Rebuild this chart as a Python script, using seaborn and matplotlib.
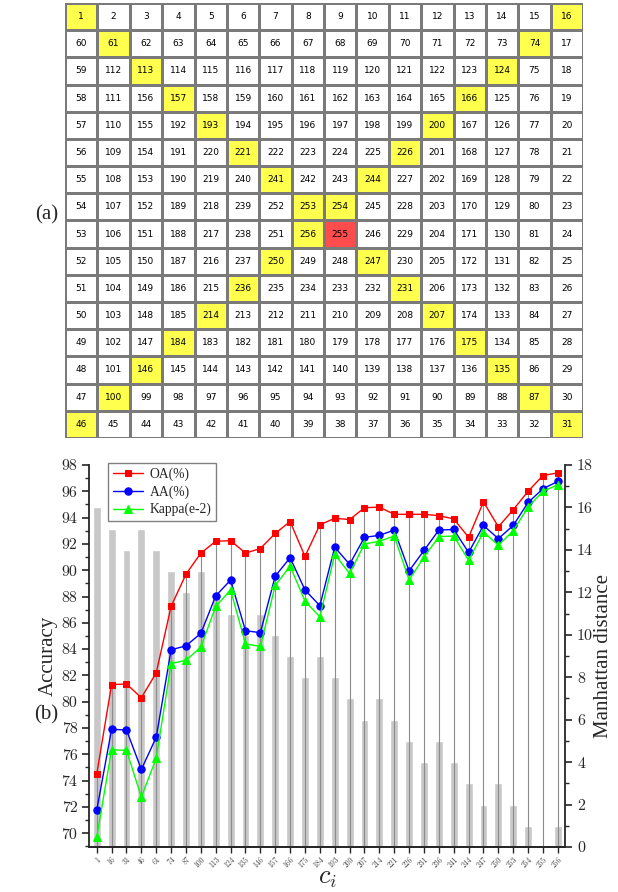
import numpy as np
import pandas as pd
import matplotlib
matplotlib.use('Agg')
import matplotlib.pyplot as plt
import seaborn as sns
from matplotlib.colors import ListedColormap
from matplotlib.ticker import MultipleLocator

# (a) 16x16 spiral grid
grid_rows = [
    [1, 2, 3, 4, 5, 6, 7, 8, 9, 10, 11, 12, 13, 14, 15, 16],
    [60, 61, 62, 63, 64, 65, 66, 67, 68, 69, 70, 71, 72, 73, 74, 17],
    [59, 112, 113, 114, 115, 116, 117, 118, 119, 120, 121, 122, 123, 124, 75, 18],
    [58, 111, 156, 157, 158, 159, 160, 161, 162, 163, 164, 165, 166, 125, 76, 19],
    [57, 110, 155, 192, 193, 194, 195, 196, 197, 198, 199, 200, 167, 126, 77, 20],
    [56, 109, 154, 191, 220, 221, 222, 223, 224, 225, 226, 201, 168, 127, 78, 21],
    [55, 108, 153, 190, 219, 240, 241, 242, 243, 244, 227, 202, 169, 128, 79, 22],
    [54, 107, 152, 189, 218, 239, 252, 253, 254, 245, 228, 203, 170, 129, 80, 23],
    [53, 106, 151, 188, 217, 238, 251, 256, 255, 246, 229, 204, 171, 130, 81, 24],
    [52, 105, 150, 187, 216, 237, 250, 249, 248, 247, 230, 205, 172, 131, 82, 25],
    [51, 104, 149, 186, 215, 236, 235, 234, 233, 232, 231, 206, 173, 132, 83, 26],
    [50, 103, 148, 185, 214, 213, 212, 211, 210, 209, 208, 207, 174, 133, 84, 27],
    [49, 102, 147, 184, 183, 182, 181, 180, 179, 178, 177, 176, 175, 134, 85, 28],
    [48, 101, 146, 145, 144, 143, 142, 141, 140, 139, 138, 137, 136, 135, 86, 29],
    [47, 100, 99, 98, 97, 96, 95, 94, 93, 92, 91, 90, 89, 88, 87, 30],
    [46, 45, 44, 43, 42, 41, 40, 39, 38, 37, 36, 35, 34, 33, 32, 31],
]
center = 255

# (b) candidate centres, distance and accuracies
ci = [1, 16, 31, 46, 61, 74, 87, 100, 113, 124, 135, 146, 157, 166, 175, 184,
      193, 200, 207, 214, 221, 226, 231, 236, 241, 244, 247, 250, 253, 254, 255, 256]
manhattan = [16, 15, 14, 15, 14, 13, 12, 13, 12, 11, 10, 11, 10, 9, 8, 9,
             8, 7, 6, 7, 6, 5, 4, 5, 4, 3, 2, 3, 2, 1, 0, 1]
oa = [74.5, 81.3, 81.35, 80.3, 82.2, 87.25, 89.7, 91.3, 92.2, 92.25, 91.3, 91.65,
      92.8, 93.7, 91.05, 93.45, 93.95, 93.85, 94.75, 94.8, 94.25, 94.25, 94.25, 94.15,
      93.9, 92.5, 95.2, 93.3, 94.6, 96.0, 97.2, 97.4]
aa = [71.75, 77.9, 77.85, 74.85, 77.3, 83.95, 84.25, 85.2, 88.05, 89.25, 85.4, 85.25,
      89.55, 90.95, 88.5, 87.3, 91.75, 90.45, 92.5, 92.65, 93.05, 89.95, 91.5, 93.05,
      93.1, 91.35, 93.4, 92.4, 93.4, 95.15, 96.2, 96.75]
kappa = [69.7, 76.35, 76.3, 72.75, 75.7, 82.9, 83.15, 84.15, 87.25, 88.5, 84.4, 84.2,
         88.85, 90.3, 87.65, 86.45, 91.2, 89.75, 92.0, 92.2, 92.6, 89.25, 91.0, 92.55,
         92.6, 90.75, 92.9, 91.9, 93.0, 94.8, 96.0, 96.5]

sns.set_style('ticks')
plt.rcParams['font.family'] = ['Liberation Serif', 'DejaVu Sans']
plt.rcParams['mathtext.fontset'] = 'cm'
plt.rcParams['xtick.direction'] = 'out'
plt.rcParams['ytick.direction'] = 'out'

fig = plt.figure(figsize=(6.18, 8.92), dpi=100)

# --- (a) grid ---
ax_a = fig.add_axes([0.1052, 0.5090, 0.8382, 0.4877])
nums = np.array(grid_rows)
state = np.isin(nums, ci).astype(int) + (nums == center).astype(int)
sns.heatmap(state, annot=nums, fmt='d',
            cmap=ListedColormap(['white', '#ffff4d', '#ff4d4d']), vmin=0, vmax=2,
            cbar=False, linewidths=1, linecolor='#7a7a7a',
            annot_kws={'fontsize': 6.5, 'color': 'black', 'family': 'DejaVu Sans'},
            xticklabels=False, yticklabels=False, ax=ax_a)
ax_a.tick_params(length=0)

# --- (b) accuracy vs centre ---
ax1 = fig.add_axes([0.1445, 0.0504, 0.7702, 0.4283])
ax2 = ax1.twinx()
x = np.arange(len(ci))
df = pd.DataFrame({'ci': [str(c) for c in ci], 'dist': manhattan})
sns.barplot(data=df, x='ci', y='dist', color='#c8c8c8', width=0.53,
            saturation=1, ax=ax2)

ax1.set_zorder(ax2.get_zorder() + 1)
ax1.patch.set_visible(False)

ax1.vlines(x, 68.95, oa, color='#8c8c8c', lw=0.8, zorder=1)
sns.lineplot(x=x, y=oa, color='#ff0000', marker='s', markersize=4.8, lw=1,
             markeredgecolor='#ff0000', label='OA(%)', ax=ax1, zorder=3)
sns.lineplot(x=x, y=aa, color='#0000ff', marker='o', markersize=5.3, lw=1,
             markeredgecolor='#0000ff', label='AA(%)', ax=ax1, zorder=3)
sns.lineplot(x=x, y=kappa, color='#00ff00', marker='^', markersize=5.3, lw=1,
             markeredgecolor='#00ff00', label='Kappa(e-2)', ax=ax1, zorder=3)

ax1.set_xlim(-0.5, len(ci) - 0.5)
ax1.set_ylim(68.95, 98)
ax1.set_yticks(np.arange(70, 99, 2))
ax1.yaxis.set_minor_locator(MultipleLocator(1))
ax2.set_ylim(0, 18)
ax2.set_yticks(np.arange(0, 19, 2))
ax2.yaxis.set_minor_locator(MultipleLocator(1))
ax1.set_xticks(x, [str(c) for c in ci])

for lab in ax1.get_yticklabels() + ax2.get_yticklabels():
    lab.set_fontfamily('cmr10')
    lab.set_fontsize(11.5)
for lab in ax1.get_xticklabels():
    lab.set_fontfamily('cmr10')
    lab.set_fontsize(5.5)
    lab.set_rotation(45)
    lab.set_ha('right')
    lab.set_rotation_mode('anchor')
    lab.set_color('#444444')

ax1.tick_params(axis='y', which='major', length=5, width=1.2)
ax1.tick_params(axis='y', which='minor', length=3, width=1)
ax1.tick_params(axis='x', length=4, width=1, pad=2)
ax2.tick_params(axis='y', which='major', length=5, width=1.2)
ax2.tick_params(axis='y', which='minor', length=3, width=1)

for ax in (ax1, ax2):
    ax.spines['top'].set_visible(False)
    for s in ('left', 'right', 'bottom'):
        ax.spines[s].set_linewidth(1.3)
ax1.spines['right'].set_visible(False)
ax2.spines['left'].set_visible(False)

ax1.set_ylabel('Accuracy', fontsize=15, labelpad=3)
ax2.set_ylabel('Manhattan distance', fontsize=15, labelpad=1)
ax1.set_xlabel('$c_i$', fontsize=19, labelpad=-1)

ax1.legend(loc='upper left', bbox_to_anchor=(0.04, 1.005), borderaxespad=0,
           frameon=True, fancybox=False, edgecolor='#808080', framealpha=1,
           fontsize=9.8, handlelength=2.2, labelspacing=0.3, borderpad=0.35,
           handletextpad=0.5)

fig.text(0.075, 1 - 215 / 892, '(a)', fontsize=15, ha='center', va='center')
fig.text(0.075, 1 - 715 / 892, '(b)', fontsize=15, ha='center', va='center')

fig.savefig('out.png', dpi=100)
